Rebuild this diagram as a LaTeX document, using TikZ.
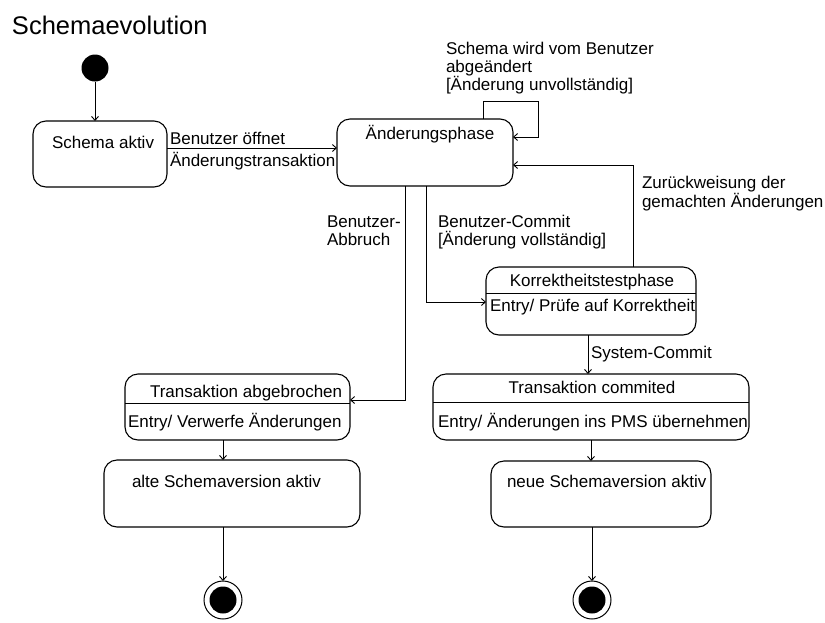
\documentclass[tikz,border=0pt]{standalone}
\usepackage{fontspec}
\setmainfont{Liberation Sans}
\usetikzlibrary{arrows.meta}
\begin{document}
\begin{tikzpicture}[x=1pt,y=-1pt,
  every node/.style={inner sep=0pt, outer sep=0pt},
  statebox/.style={draw, line width=1.1pt, rectangle, rounded corners=13pt},
  txt/.style={font=\fontsize{17}{18}\selectfont, anchor=base west},
  ctxt/.style={font=\fontsize{17}{18}\selectfont, anchor=base},
  arr/.style={line width=0.9pt, -{Straight Barb[length=4pt,width=7pt]}},
  divider/.style={line width=1pt}]
\useasboundingbox (0,0) rectangle (825,622);

% title
\node[font=\fontsize{25.5}{27}\selectfont, anchor=base west] (title) at (12,34) {Schemaevolution};

% initial and final pseudo states
\node[circle, fill=black, minimum size=27pt] (init) at (95,68) {};
\node[circle, draw, line width=1pt, minimum size=38pt] (endL) at (223,600) {};
\node[circle, fill=black, minimum size=27pt] (endLdot) at (223,600) {};
\node[circle, draw, line width=1pt, minimum size=38pt] (endR) at (592,600) {};
\node[circle, fill=black, minimum size=27pt] (endRdot) at (592,600) {};

% states
\node[statebox, minimum width=134pt, minimum height=66pt] (sa) at (100,154) {};
\node[txt] (saT) at (52,148) {Schema aktiv};

\node[statebox, minimum width=176pt, minimum height=67pt] (ap) at (425,152.5) {};
\node[ctxt] (apT) at (430,139) {Änderungsphase};

\node[statebox, minimum width=210pt, minimum height=68pt] (kt) at (591,301) {};
\draw[divider] (kt.west |- 0,293) -- (kt.east |- 0,293);
\node[ctxt] (ktT) at (592,286) {Korrektheitstestphase};
\node[txt] (ktE) at (490,311) {Entry/ Prüfe auf Korrektheit};

\node[statebox, minimum width=316pt, minimum height=66pt] (tc) at (591,407) {};
\draw[divider] (tc.west |- 0,402) -- (tc.east |- 0,402);
\node[ctxt] (tcT) at (592,393) {Transaktion commited};
\node[txt] (tcE) at (438,427) {Entry/ Änderungen ins PMS übernehmen};

\node[statebox, minimum width=225pt, minimum height=66pt] (tab) at (237.5,407) {};
\draw[divider] (tab.west |- 0,403) -- (tab.east |- 0,403);
\node[txt] (tabT) at (150,397) {Transaktion abgebrochen};
\node[txt] (tabE) at (128,427) {Entry/ Verwerfe Änderungen};

\node[statebox, minimum width=256pt, minimum height=67pt] (alt) at (232,493.5) {};
\node[txt] (altT) at (132,487) {alte Schemaversion aktiv};

\node[statebox, minimum width=220pt, minimum height=66pt] (neu) at (601,494) {};
\node[txt] (neuT) at (507,487) {neue Schemaversion aktiv};

% transitions
\draw[arr] (init) -- (init |- sa.north);
\draw[arr] (sa.east |- 0,148) -- (ap.west |- 0,148);
\node[txt] (l1a) at (170,144) {Benutzer öffnet};
\node[txt] (l1b) at (170,166) {Änderungstransaktion};

\draw[arr] (ap.north -| 483,0) |- (538,101) |- (ap.east |- 0,137);
\node[txt] (l2a) at (446,54) {Schema wird vom Benutzer};
\node[txt] (l2b) at (446,72) {abgeändert};
\node[txt] (l2c) at (446,90) {[Änderung unvollständig]};

\draw[arr] (kt.north -| 633,0) |- (ap.east |- 0,165);
\node[txt] (l3a) at (642,188) {Zurückweisung der};
\node[txt] (l3b) at (642,207) {gemachten Änderungen};

\draw[arr] (ap.south -| 405,0) |- (tab.east |- 0,400);
\node[txt] (l4a) at (327,227) {Benutzer-};
\node[txt] (l4b) at (327,245) {Abbruch};

\draw[arr] (ap.south -| 426,0) |- (kt.west |- 0,302);
\node[txt] (l5a) at (438,227) {Benutzer-Commit};
\node[txt] (l5b) at (438,245) {[Änderung vollständig]};

\draw[arr] (kt.south -| 588,0) -- (tc.north -| 588,0);
\node[txt] (l6) at (591,358) {System-Commit};

\draw[arr] (tc.south -| 591,0) -- (neu.north -| 591,0);
\draw[arr] (tab.south -| 223,0) -- (alt.north -| 223,0);
\draw[arr] (alt.south -| 223,0) -- (endL.north);
\draw[arr] (neu.south -| 592,0) -- (endR.north);
\end{tikzpicture}
\end{document}
